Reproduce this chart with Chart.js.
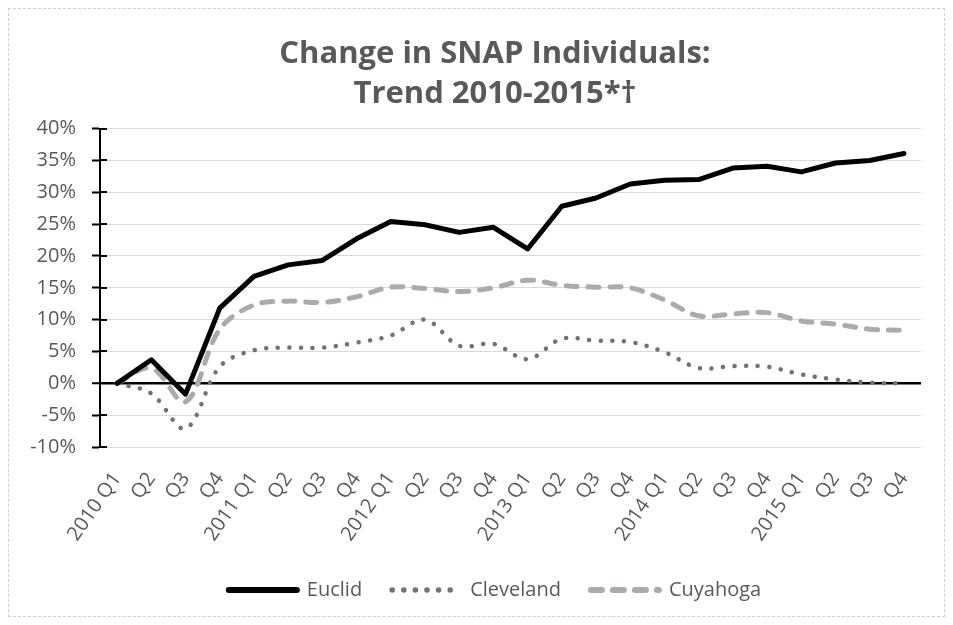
<!DOCTYPE html>
<html>
<head>
<meta charset="utf-8">
<script src="https://cdn.jsdelivr.net/npm/chart.js@4/dist/chart.umd.min.js"></script>
<style>
  html, body { margin: 0; padding: 0; background: #fff; }
  #frame {
    position: absolute; left: 8px; top: 8px;
    width: 935px; height: 607px;
    border: 1px dashed #cfcfcf;
    overflow: hidden;
  }
  #snapChart { display: block; }
</style>
</head>
<body>
<div id="frame"><canvas id="snapChart" width="935" height="607"></canvas></div>
<script>
const quarters = [
    '2010 Q1', 'Q2', 'Q3', 'Q4',
    '2011 Q1', 'Q2', 'Q3', 'Q4',
    '2012 Q1', 'Q2', 'Q3', 'Q4',
    '2013 Q1', 'Q2', 'Q3', 'Q4',
    '2014 Q1', 'Q2', 'Q3', 'Q4',
    '2015 Q1', 'Q2', 'Q3', 'Q4',
];

// percent change since 2010 Q1
const euclid = [
    0, 3.7, -1.7, 11.8,
    16.8, 18.6, 19.3, 22.7,
    25.4, 24.9, 23.7, 24.5,
    21.1, 27.8, 29.1, 31.3,
    31.9, 32.0, 33.8, 34.1,
    33.2, 34.6, 35.0, 36.1,
];
const cleveland = [
    0, -1.6, -7.1, 2.6,
    5.2, 5.6, 5.6, 6.4,
    7.5, 10.0, 5.9, 6.2,
    3.8, 7.0, 6.7, 6.5,
    4.9, 2.4, 2.7, 2.6,
    1.4, 0.6, 0.1, 0.0,
];
const cuyahoga = [
    0, 2.4, -2.9, 8.5,
    12.3, 12.9, 12.7, 13.6,
    15.1, 14.9, 14.4, 15.0,
    16.2, 15.4, 15.1, 15.0,
    13.1, 10.6, 10.9, 11.1,
    9.8, 9.3, 8.5, 8.3,
];

const yMin = -10, yMax = 40, yStep = 5;

const textGray = '#595959';
const fontFamily = '"Open Sans", "Liberation Sans", sans-serif';

// short black tick marks on the inside of the value axis
const innerTicks = {
    id: 'innerTicks',
    afterDatasetsDraw(chart) {
        const y = chart.scales.y;
        const ctx = chart.ctx;
        ctx.save();
        ctx.strokeStyle = '#000';
        ctx.lineWidth = 2;
        for (const t of y.ticks) {
            const py = Math.round(y.getPixelForValue(t.value));
            ctx.beginPath();
            ctx.moveTo(y.right, py);
            ctx.lineTo(y.right + 7, py);
            ctx.stroke();
        }
        ctx.restore();
    },
};

new Chart(document.getElementById('snapChart'), {
    type: 'line',
    data: {
        labels: quarters,
        datasets: [
            {
                label: 'Euclid',
                data: euclid,
                borderColor: '#000000',
                backgroundColor: '#000000',
                borderWidth: 5,
                borderCapStyle: 'round',
                borderJoinStyle: 'round',
                tension: 0,
                pointRadius: 0,
            },
            {
                label: 'Cleveland',
                data: cleveland,
                borderColor: '#767171',
                backgroundColor: '#767171',
                borderWidth: 4.5,
                borderDash: [0.1, 11.5],
                borderCapStyle: 'round',
                tension: 0.35,
                pointRadius: 0,
            },
            {
                label: 'Cuyahoga',
                data: cuyahoga,
                borderColor: '#aeaaaa',
                backgroundColor: '#aeaaaa',
                borderWidth: 5,
                borderDash: [11, 11],
                borderCapStyle: 'round',
                tension: 0.35,
                pointRadius: 0,
            },
        ],
    },
    options: {
        responsive: false,
        animation: false,
        // negative right padding + spacer axis: pushes the title a bit right of centre
        layout: { padding: { left: 10, right: -27, top: 12, bottom: 6 } },
        scales: {
            x: {
                offset: true,
                grid: { display: false },
                border: { display: false },
                ticks: {
                    color: textGray,
                    font: { family: fontFamily, size: 20 },
                    minRotation: 55,
                    maxRotation: 55,
                    autoSkip: false,
                    padding: 13,
                },
                afterFit(scale) { scale.height = 103; },
            },
            y: {
                min: yMin,
                max: yMax,
                border: { display: true, color: '#000', width: 2 },
                grid: {
                    color: ctx => ctx.tick && ctx.tick.value === 0 ? '#000' : '#d9d9d9',
                    lineWidth: ctx => ctx.tick && ctx.tick.value === 0 ? 2.5 : 1,
                    tickColor: '#000',
                    tickWidth: 2,
                    tickLength: 8,
                },
                ticks: {
                    stepSize: yStep,
                    color: textGray,
                    font: { family: fontFamily, size: 20 },
                    padding: 16,
                    callback: v => v + '%',
                },
                afterFit(scale) { scale.width = 81; },
            },
            yPad: {
                position: 'right',
                grid: { display: false },
                border: { display: false },
                ticks: { display: false },
                afterFit(scale) { scale.width = 50; },
            },
        },
        plugins: {
            title: {
                display: true,
                text: ['Change in SNAP Individuals:', 'Trend 2010-2015*\u2020'],
                color: textGray,
                font: { family: fontFamily, size: 31, weight: 'bold', lineHeight: 1.3 },
                padding: { top: 13, bottom: 14 },
            },
            legend: {
                position: 'bottom',
                labels: {
                    color: textGray,
                    font: { family: fontFamily, size: 20 },
                    usePointStyle: true,
                    pointStyle: 'line',
                    pointStyleWidth: 68,
                    padding: 30,
                    generateLabels(chart) {
                        return chart.data.datasets.map((ds, i) => ({
                            text: ds.label,
                            datasetIndex: i,
                            fontColor: textGray,
                            fillStyle: ds.borderColor,
                            strokeStyle: ds.borderColor,
                            lineWidth: ds.borderWidth + 1,
                            lineDash: ds.borderDash || [],
                            lineCap: 'round',
                            pointStyle: 'line',
                            hidden: false,
                        }));
                    },
                },
            },
            tooltip: { enabled: false },
        },
    },
    plugins: [innerTicks],
});
</script>
</body>
</html>
